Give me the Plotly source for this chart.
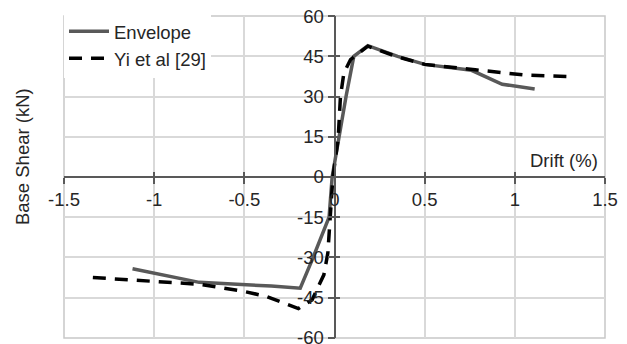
import plotly.graph_objects as go

# Hysteresis envelope vs. reference curve (drift in %, base shear in kN)
envelope_drift = [-1.12, -0.75, -0.35, -0.19, -0.124, -0.078, -0.03, -0.013,
                  0.024, 0.064, 0.107, 0.185, 0.35, 0.5, 0.76, 0.93, 1.11]
envelope_shear = [-34.2, -39.3, -40.7, -41.5, -30.9, -23.4, -15.0, 0.0,
                  15.0, 30.0, 45.0, 49.0, 45.0, 42.0, 39.8, 34.6, 32.8]

yi_drift = [-1.34, -1.0, -0.75, -0.5, -0.38, -0.2, -0.124, -0.059, -0.037,
            -0.009, 0.02, 0.033, 0.052, 0.089, 0.185, 0.35, 0.5, 0.78, 1.06, 1.33]
yi_shear = [-37.5, -39.0, -40.0, -42.7, -44.5, -49.1, -45.8, -36.5, -28.4,
            0.0, 14.0, 30.0, 38.8, 43.8, 48.8, 44.8, 42.0, 40.0, 38.0, 37.4]

x_ticks = [-1.5, -1, -0.5, 0, 0.5, 1, 1.5]
x_tick_text = ["-1.5", "-1", "-0.5", "0", "0.5", "1", "1.5"]
y_ticks = [-60, -45, -30, -15, 0, 15, 30, 45, 60]
y_tick_text = ["-60", "-45", "-30", "-15", "0", "15", "30", "45", "60"]

FONT = "Liberation Sans, Arial, sans-serif"
FS = 18.5
TEXT = "#262626"
GRID = "#d9d9d9"
AXIS = "#595959"
X_RANGE = [-1.5, 1.5]
Y_RANGE = [-60.05, 60.05]

fig = go.Figure()
fig.add_trace(go.Scatter(
    x=envelope_drift, y=envelope_shear, mode="lines", name="Envelope",
    line=dict(color="#595959", width=3.5),
))
fig.add_trace(go.Scatter(
    x=yi_drift, y=yi_shear, mode="lines", name="Yi et al [29]",
    line=dict(color="#000000", width=3.5, dash="13px,9px"),
))
# empty trace so the companion axes are rendered
fig.add_trace(go.Scatter(x=[], y=[], xaxis="x2", yaxis="y2",
                         showlegend=False, hoverinfo="skip"))

tick_font = dict(family=FONT, size=FS, color=TEXT)

fig.update_layout(
    width=627, height=344,
    margin=dict(l=64, r=22, t=16, b=6),
    plot_bgcolor="white", paper_bgcolor="white",
    showlegend=True,
    legend=dict(x=0.0, y=1.01, xanchor="left", yanchor="top",
                bgcolor="white", borderwidth=0,
                font=dict(family=FONT, size=FS, color=TEXT),
                tracegroupgap=0, itemwidth=40),
    # x: labels and lower tick half on the main axis, upper half on x2
    xaxis=dict(range=X_RANGE, tickvals=x_ticks, ticktext=x_tick_text,
               tickfont=tick_font, ticklabeloverflow="allow",
               showgrid=True, gridcolor=GRID, gridwidth=1.5,
               anchor="free", position=0.5, ticks="outside", ticklen=6,
               showline=True, linecolor=AXIS, linewidth=1.5, zeroline=False,
               tickcolor=AXIS, tickwidth=1.5, automargin=False),
    xaxis2=dict(range=X_RANGE, overlaying="x", anchor="free", position=0.5,
                tickvals=x_ticks, showticklabels=False, ticks="inside", ticklen=5,
                tickcolor=AXIS, tickwidth=1.5, showgrid=False, zeroline=False,
                showline=False, automargin=False),
    # y: grid, line and right tick half on the main axis, labels on y2
    yaxis=dict(range=Y_RANGE, tickvals=y_ticks, showticklabels=False,
               showgrid=True, gridcolor=GRID, gridwidth=1.5,
               anchor="free", position=0.5, ticks="inside", ticklen=5,
               showline=True, linecolor=AXIS, linewidth=1.5, zeroline=False,
               tickcolor=AXIS, tickwidth=1.5, automargin=False),
    yaxis2=dict(range=Y_RANGE, overlaying="y", anchor="free", position=0.5,
                tickvals=y_ticks, ticktext=y_tick_text, tickfont=tick_font,
                ticklabeloverflow="allow",
                ticks="outside", ticklen=7, tickcolor=AXIS, tickwidth=1.5,
                showgrid=False, zeroline=False, showline=False, automargin=False),
    shapes=[dict(type="rect", xref="paper", yref="paper", x0=0, y0=0, x1=1, y1=1,
                 line=dict(color="#c8c8c8", width=1.5), layer="below")],
    annotations=[
        dict(text="Drift (%)", xref="paper", yref="paper", x=0.99, y=0.552,
             xanchor="right", yanchor="middle", showarrow=False,
             font=dict(family=FONT, size=FS, color=TEXT)),
        dict(text="Base Shear (kN)", xref="paper", yref="paper", x=-0.077, y=0.563,
             xanchor="center", yanchor="middle", textangle=-90, showarrow=False,
             font=dict(family=FONT, size=FS, color=TEXT)),
    ],
)

fig.write_html("out.html")
